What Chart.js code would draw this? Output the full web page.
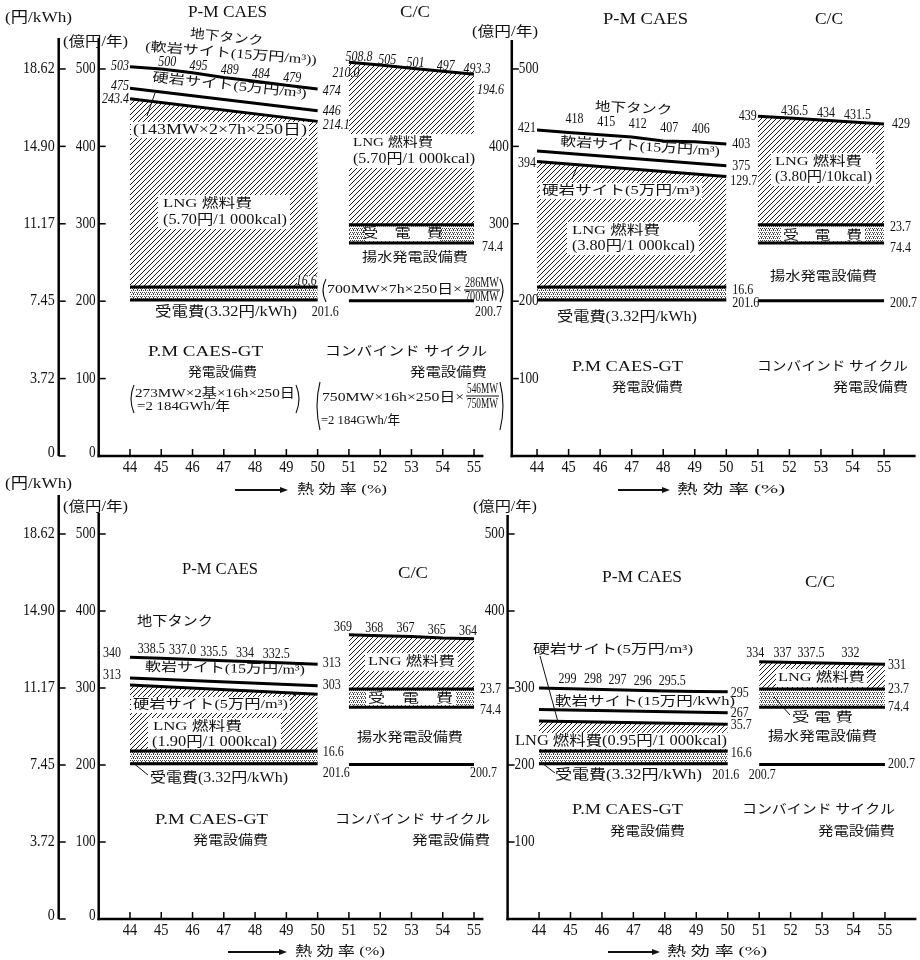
<!DOCTYPE html>
<html lang="ja">
<head>
<meta charset="UTF-8">
<title>P-M CAES / C/C</title>
<script src="https://cdn.jsdelivr.net/npm/chart.js@4/dist/chart.umd.min.js"></script>
<style>
    body { margin: 0; background: #fff; }
    #wrap { position: relative; width: 920px; height: 960px; }
    #wrap canvas { position: absolute; left: 0; top: 0; }
</style>
</head>
<body>
<div id="wrap">
    <canvas id="cA" width="920" height="960"></canvas>
    <canvas id="cB" width="920" height="960"></canvas>
    <canvas id="cC" width="920" height="960"></canvas>
    <canvas id="cD" width="920" height="960"></canvas>
</div>
<script>
// axis ticks
var xTicks = [44, 45, 46, 47, 48, 49, 50, 51, 52, 53, 54, 55];
var yTicks = [500, 400, 300, 200, 100, 0];
var kwhTicks = ['18.62', '14.90', '11.17', '7.45', '3.72', '0'];

// 熱効率 (%)
var pmX = [44, 45, 46, 47, 48, 49, 50];
var pmEnds = [44, 50];
var ccX = [51, 52, 53, 54, 55];
var ccEnds = [51, 55];

// common cost levels (億円/年)
var pmBase = [201.6, 201.6];   // P.M CAES-GT 発電設備費
var pmRecv = [218.2, 218.2];   // + 受電費
var ccBase = [200.7, 200.7];   // コンバインドサイクル 発電設備費
var ccPump = [275.1, 275.1];   // + 揚水発電設備費
var ccRecv = [298.8, 298.8];   // + 受電費

// LNG 5.70円/1000kcal
var aTank = [503, 500, 495, 489, 484, 479, 474];
var aHard = [475, 446];
var aLng = [461.6, 432.3];
var aCc = [508.8, 505, 501, 497, 493.3];
var aCcLbl = ['508.8', '505', '501', '497', '493.3'];

// LNG 3.80円
var bTank = [421, 418, 415, 412, 407, 406, 403];
var bSoft = [394, 375];
var bLng = [380.5, 361];
var bCc = [439, 436.5, 434, 431.5, 429];

// LNG 1.90円
var cTank = [340, 338.5, 337.0, 335.5, 334, 332.5, 331];
var cTankLbl = ['340', '338.5', '337.0', '335.5', '334', '332.5', '313'];
var cSoft = [313, 303];
var cLng = [304, 292];
var cCc = [369, 368, 367, 365, 364];

// LNG 0.95円
var dTank = [300, 299, 298, 297, 296, 295.5, 295];
var dSoft = [272, 268];
var dLng = [257, 253];
var dCc = [334, 331];
var dCcLbl = ['334', '337', '337.5', '332'];

var FONT = '"Liberation Serif", "Noto Sans CJK JP", serif';

// --- small drawing helpers ---
function txt(ctx, s, x, y, o) {
    o = o || {};
    var size = o.size || 13;
    ctx.save();
    ctx.font = (o.italic ? 'italic ' : '') + size + 'px ' + FONT;
    var m = ctx.measureText(s).width;
    var sx = o.w ? o.w / m : (o.sx || 1);
    var w = m * sx;
    var cx = o.align === 'left' ? x + w / 2 : (o.align === 'right' ? x - w / 2 : x);
    ctx.translate(cx, y);
    if (o.rot) ctx.rotate(o.rot * Math.PI / 180);
    ctx.scale(sx, 1);
    ctx.fillStyle = '#111';
    ctx.textAlign = 'center';
    ctx.textBaseline = 'middle';
    ctx.fillText(s, 0, 0);
    ctx.restore();
}
function T(ctx, s, x1, x2, y, size, o) {
    o = o || {};
    o.size = size;
    o.w = x2 - x1;
    txt(ctx, s, (x1 + x2) / 2, y, o);
}
function N(ctx, s, x, y, align, italic) {
    txt(ctx, s, x, y, { size: 15, sx: 0.8, align: align || 'center', italic: italic });
}
function seg(ctx, x1, y1, x2, y2, lw) {
    if (lw) ctx.lineWidth = lw;
    ctx.beginPath();
    ctx.moveTo(x1, y1);
    ctx.lineTo(x2, y2);
    ctx.stroke();
}
function box(ctx, x1, y1, x2, y2) {
    ctx.fillStyle = '#fff';
    ctx.fillRect(x1, y1, x2 - x1, y2 - y1);
}
function paren(ctx, x, y1, y2, right) {
    var d = right ? -3 : 3;
    ctx.save();
    ctx.lineWidth = 1.1;
    ctx.strokeStyle = '#111';
    ctx.beginPath();
    ctx.moveTo(x + d, y1);
    ctx.quadraticCurveTo(x - d, (y1 + y2) / 2, x + d, y2);
    ctx.stroke();
    ctx.restore();
}
function frac(ctx, num, den, x1, x2, yn, yb, yd) {
    T(ctx, num, x1, x2, yn, 15);
    ctx.strokeStyle = '#111';
    seg(ctx, x1 - 1, yb, x2 + 1, yb, 1);
    T(ctx, den, x1, x2, yd, 15);
}
function pointer(ctx, x1, y1, x2, y2, head) {
    ctx.save();
    ctx.strokeStyle = '#111';
    seg(ctx, x1, y1, x2, y2, 1);
    if (head) {
        var a = Math.atan2(y2 - y1, x2 - x1);
        ctx.fillStyle = '#111';
        ctx.beginPath();
        ctx.moveTo(x2, y2);
        ctx.lineTo(x2 - 5 * Math.cos(a - 0.4), y2 - 5 * Math.sin(a - 0.4));
        ctx.lineTo(x2 - 5 * Math.cos(a + 0.4), y2 - 5 * Math.sin(a + 0.4));
        ctx.fill();
    }
    ctx.restore();
}
function arrowLabel(ctx, x1, x2, y, tx1, tx2) {
    ctx.save();
    ctx.strokeStyle = '#111';
    ctx.fillStyle = '#111';
    seg(ctx, x1, y, x2 - 6, y, 1.8);
    ctx.beginPath();
    ctx.moveTo(x2, y);
    ctx.lineTo(x2 - 8, y - 3);
    ctx.lineTo(x2 - 8, y + 3);
    ctx.fill();
    ctx.restore();
    T(ctx, '熱 効 率 (%)', tx1, tx2, y, 13);
}

// patterns
function hatchPattern() {
    var c = document.createElement('canvas');
    c.width = c.height = 5;
    var g = c.getContext('2d');
    g.strokeStyle = '#000';
    g.lineWidth = 0.9;
    g.beginPath();
    g.moveTo(-1, 6); g.lineTo(6, -1);
    g.moveTo(-1, 1); g.lineTo(1, -1);
    g.moveTo(4, 6); g.lineTo(6, 4);
    g.stroke();
    return g.createPattern(c, 'repeat');
}
function dotPattern() {
    var c = document.createElement('canvas');
    c.width = c.height = 4;
    var g = c.getContext('2d');
    g.fillStyle = '#444';
    [[0, 0], [2, 0], [1, 2], [3, 2], [1, 1]].forEach(function (p) {
        g.fillRect(p[0], p[1], 1, 1);
    });
    return g.createPattern(c, 'repeat');
}
var HATCH = hatchPattern();
var DOTS = dotPattern();

function line(xs, ys, fillTo, bg) {
    return {
        data: xs.map(function (x, i) { return { x: x, y: ys[i] }; }),
        borderColor: '#000',
        borderWidth: 3,
        pointRadius: 0,
        tension: 0,
        fill: fillTo === undefined ? false : fillTo,
        backgroundColor: bg || 'transparent'
    };
}
function datasets(tank, mid, lng, cc) {
    return [
        line(pmX, tank),
        line(pmEnds, mid),
        line(pmEnds, lng, 3, HATCH),
        line(pmEnds, pmRecv, 4, DOTS),
        line(pmEnds, pmBase),
        line(cc.length === 2 ? ccEnds : ccX, cc, 6, HATCH),
        line(ccEnds, ccRecv, 7, DOTS),
        line(ccEnds, ccPump),
        line(ccEnds, ccBase)
    ];
}

function drawAxes(chart, cfg) {
    var ctx = chart.ctx, a = chart.chartArea;
    var xs = chart.scales.x, ys = chart.scales.y;
    var left = a.left, bot = a.bottom;
    ctx.save();
    ctx.strokeStyle = '#000';
    seg(ctx, left, cfg.innerTop, left, bot + 1.2, 2.5);
    seg(ctx, left - 1.2, bot, a.right, bot, 2.5);
    ctx.lineWidth = 1.5;
    xTicks.forEach(function (v) {
        var x = xs.getPixelForValue(v);
        seg(ctx, x, bot, x, bot - 7);
        txt(ctx, String(v), x, bot + 12, { size: 16, sx: 0.9 });
    });
    yTicks.forEach(function (v, i) {
        var y = ys.getPixelForValue(v);
        if (v > 0) seg(ctx, left, y, left + 7, y, 1.5);
        var side = cfg.sides[i];
        if (side === 'L') txt(ctx, String(v), left - 3, v === 0 ? y - 3 : y, { size: 16, sx: 0.83, align: 'right' });
        if (side === 'R') txt(ctx, String(v), left + 7, y, { size: 16, sx: 0.83, align: 'left' });
    });
    if (cfg.outer) {
        var ox = left - 40;
        seg(ctx, ox, cfg.outerTop, ox, bot, 2.5);
        yTicks.forEach(function (v, i) {
            var y = ys.getPixelForValue(v);
            seg(ctx, ox, y, ox + 7, y, 1.5);
            txt(ctx, kwhTicks[i], ox - 4, v === 0 ? y - 3 : y, { size: 16, sx: 0.88, align: 'right' });
        });
    }
    ctx.restore();
}

function makePanel(id, cfg) {
    var deco = {
        id: 'deco' + id,
        beforeDatasetsDraw: function (chart) {
            var X = function (v) { return chart.scales.x.getPixelForValue(v); };
            var Y = function (v) { return chart.scales.y.getPixelForValue(v); };
            cfg.boxes(chart.ctx, X, Y);
        },
        afterDatasetsDraw: function (chart) {
            var X = function (v) { return chart.scales.x.getPixelForValue(v); };
            var Y = function (v) { return chart.scales.y.getPixelForValue(v); };
            drawAxes(chart, cfg);
            cfg.texts(chart.ctx, X, Y);
        }
    };
    return new Chart(document.getElementById(id), {
        type: 'line',
        data: { datasets: cfg.datasets },
        options: {
            responsive: false,
            animation: false,
            events: [],
            layout: { padding: cfg.padding },
            plugins: {
                legend: { display: false },
                tooltip: { enabled: false },
                filler: { drawTime: 'beforeDraw' }
            },
            scales: {
                x: { type: 'linear', min: cfg.xmin, max: cfg.xmax, display: false },
                y: { min: 0, max: 540, display: false }
            }
        },
        plugins: [deco]
    });
}

// ---------- panel A : 5.70円 ----------
makePanel('cA', {
    datasets: datasets(aTank, aHard, aLng, aCc),
    padding: { left: 98.7, right: 436.6, top: 38, bottom: 504 },
    xmin: 43, xmax: 55.3,
    outer: true, outerTop: 38, innerTop: 38,
    sides: ['L', 'L', 'L', 'L', 'L', 'L'],
    boxes: function (ctx, X, Y) {
        box(ctx, 131, 122, 309, 138);
        box(ctx, 158, 195, 290, 229);
        box(ctx, 297, 276, 318, 285);
        box(ctx, 349, 134, 478, 168);
        box(ctx, 366, Y(ccRecv[0]) + 2, 440, Y(ccPump[0]) - 2);
    },
    texts: function (ctx, X, Y) {
        var i;
        T(ctx, '(円/kWh)', 5, 72, 18, 15);
        T(ctx, '(億円/年)', 63, 128, 42, 14);
        T(ctx, 'P-M CAES', 188, 267, 13, 16);
        T(ctx, 'C/C', 400, 430, 13, 16);
        T(ctx, '地下タンク', 190, 263, 38, 13, { rot: 6 });
        T(ctx, '(軟岩サイト(15万円/m³))', 145, 317, 54, 13, { rot: 4.5 });
        T(ctx, '硬岩サイト(5万円/m³)', 152, 307, 86, 13, { rot: 6 });
        T(ctx, '(143MW×2×7h×250日)', 133, 307, 130, 14);
        T(ctx, 'LNG 燃料費', 163, 252, 204, 13);
        T(ctx, '(5.70円/1 000kcal)', 163, 287, 220, 14);
        T(ctx, '受電費(3.32円/kWh)', 155, 297, 312, 14);
        T(ctx, 'P.M CAES-GT', 148, 263, 352, 15);
        T(ctx, '発電設備費', 188, 257, 373, 13);
        paren(ctx, 131, 385, 413, false);
        paren(ctx, 299, 385, 413, true);
        T(ctx, '273MW×2基×16h×250日', 135, 295, 394, 13);
        T(ctx, '=2 184GWh/年', 137, 230, 407, 13);

        T(ctx, 'LNG 燃料費', 353, 433, 143, 13);
        T(ctx, '(5.70円/1 000kcal)', 353, 475, 159, 14);
        T(ctx, '受　電　費', 362, 443, 234, 13);
        T(ctx, '揚水発電設備費', 362, 468, 258, 13);
        paren(ctx, 323, 279, 302, false);
        paren(ctx, 503, 279, 302, true);
        T(ctx, '700MW×7h×250日×', 327, 462, 290, 13);
        frac(ctx, '286MW', '700MW', 465, 499, 283, 290, 297);
        T(ctx, 'コンバインド サイクル', 325, 487, 352, 13);
        T(ctx, '発電設備費', 410, 487, 373, 13);
        paren(ctx, 317, 382, 430, false);
        paren(ctx, 503, 382, 430, true);
        T(ctx, '750MW×16h×250日×', 322, 464, 398, 13);
        frac(ctx, '546MW', '750MW', 467, 498, 389, 396, 404);
        T(ctx, '=2 184GWh/年', 321, 400, 421, 13);
        arrowLabel(ctx, 235, 288, 490, 297, 387);
        pointer(ctx, 155, 93, 147, 116, false);

        N(ctx, String(aTank[0]), X(pmX[0]) - 1, Y(aTank[0]) - 1, 'right', true);
        for (i = 1; i < 6; i++) N(ctx, String(aTank[i]), X(pmX[i]) + 6, Y(aTank[i]) - 7, 'center', true);
        N(ctx, String(aTank[6]), X(pmX[6]) + 5, Y(aTank[6]) + 2, 'left', true);
        N(ctx, String(aHard[0]), X(44) - 1, Y(aHard[0]) - 2, 'right', true);
        N(ctx, String(aHard[1]), X(50) + 5, Y(aHard[1]), 'left', true);
        N(ctx, '243.4', X(44) - 1, Y(aLng[0]), 'right', true);
        N(ctx, '214.1', X(50) + 5, Y(aLng[1]) + 4, 'left', true);
        N(ctx, '16.6', X(50) - 1, Y(pmRecv[1]) - 6, 'right', true);
        N(ctx, '201.6', X(50) - 6, Y(pmBase[1]) + 12, 'left', false);
        var ccDx = [10, 7, 4, 3, 3];
        for (i = 0; i < 5; i++) N(ctx, aCcLbl[i], X(ccX[i]) + ccDx[i], Y(aCc[i]) - 5, 'center', true);
        N(ctx, '210.0', X(51) - 3, Y(aCc[0]) + 11, 'center', true);
        N(ctx, '194.6', X(55) + 3, Y(aCc[4]) + 16, 'left', true);
        N(ctx, '74.4', X(55) + 8, Y(ccPump[1]) + 4, 'left', false);
        N(ctx, '200.7', X(55) + 28, Y(ccBase[1]) + 11, 'right', false);
    }
});

// ---------- panel B : 3.80円 ----------
makePanel('cB', {
    datasets: datasets(bTank, bSoft, bLng, bCc),
    padding: { left: 511.8, right: 4.4, top: 38, bottom: 504 },
    xmin: 43.2, xmax: 56.0,
    outer: false, innerTop: 40,
    sides: ['R', 'L', 'L', 'R', 'R', null],
    boxes: function (ctx, X, Y) {
        box(ctx, 540, 183, 702, 199);
        box(ctx, 567, 222, 699, 255);
        box(ctx, 771, 153, 876, 186);
        box(ctx, 781, Y(ccRecv[0]) + 2, 865, Y(ccPump[0]) - 2);
    },
    texts: function (ctx, X, Y) {
        var i;
        T(ctx, '(億円/年)', 472, 538, 32, 14);
        T(ctx, 'P-M CAES', 603, 688, 20, 16);
        T(ctx, 'C/C', 815, 843, 20, 16);
        T(ctx, '地下タンク', 595, 672, 109, 13, { rot: 3 });
        T(ctx, '軟岩サイト(15万円/m³)', 560, 720, 147, 13, { rot: 3.5 });
        T(ctx, '硬岩サイト(5万円/m³)', 542, 700, 191, 13);
        T(ctx, 'LNG 燃料費', 572, 660, 231, 13);
        T(ctx, '(3.80円/1 000kcal)', 572, 695, 246, 14);
        T(ctx, '受電費(3.32円/kWh)', 557, 697, 317, 14);
        T(ctx, 'LNG 燃料費', 775, 862, 162, 13);
        T(ctx, '(3.80円/10kcal)', 775, 872, 177, 14);
        T(ctx, '受　電　費', 783, 862, 236, 13);
        T(ctx, '揚水発電設備費', 770, 877, 277, 13);
        T(ctx, 'P.M CAES-GT', 572, 683, 367, 15);
        T(ctx, '発電設備費', 612, 683, 388, 13);
        T(ctx, 'コンバインド サイクル', 757, 908, 367, 13);
        T(ctx, '発電設備費', 833, 908, 388, 13);
        arrowLabel(ctx, 618, 670, 490, 677, 785);
        pointer(ctx, 577, 167, 572, 179, false);

        N(ctx, String(bTank[0]), X(44) - 1, Y(bTank[0]) - 2, 'right');
        for (i = 1; i < 6; i++) N(ctx, String(bTank[i]), X(pmX[i]) + 6, Y(bTank[i]) - 13, 'center');
        N(ctx, String(bTank[6]), X(50) + 6, Y(bTank[6]), 'left');
        N(ctx, String(bSoft[0]), X(44) - 1, Y(bSoft[0]) + 12, 'right');
        N(ctx, String(bSoft[1]), X(50) + 6, Y(bSoft[1]), 'left');
        N(ctx, '129.7', X(50) + 4, Y(bLng[1]) + 5, 'left');
        N(ctx, '16.6', X(50) + 6, Y(pmRecv[1]) + 3, 'left');
        N(ctx, '201.6', X(50) + 6, Y(pmBase[1]) + 3, 'left');
        N(ctx, String(bCc[0]), X(51) - 1, Y(bCc[0]), 'right');
        for (i = 1; i < 4; i++) N(ctx, String(bCc[i]), X(ccX[i]) + 5, Y(bCc[i]) - 7, 'center');
        N(ctx, String(bCc[4]), X(55) + 8, Y(bCc[4]), 'left');
        N(ctx, '23.7', X(55) + 6, Y(ccRecv[1]) + 2, 'left');
        N(ctx, '74.4', X(55) + 6, Y(ccPump[1]) + 5, 'left');
        N(ctx, '200.7', X(55) + 6, Y(ccBase[1]) + 2, 'left');
    }
});

// ---------- panel C : 1.90円 ----------
makePanel('cC', {
    datasets: datasets(cTank, cSoft, cLng, cCc),
    padding: { left: 98.7, right: 436.6, top: 503.2, bottom: 41 },
    xmin: 43, xmax: 55.3,
    outer: true, outerTop: 495, innerTop: 513,
    sides: ['L', 'L', 'L', 'L', 'L', 'L'],
    boxes: function (ctx, X, Y) {
        box(ctx, 131, 697, 290, 713);
        box(ctx, 148, 718, 281, 749);
        box(ctx, 365, 653, 458, 671);
        box(ctx, 366, Y(ccRecv[0]) + 2, 456, Y(ccPump[0]) - 2);
    },
    texts: function (ctx, X, Y) {
        var i;
        T(ctx, '(円/kWh)', 5, 72, 484, 15);
        T(ctx, '(億円/年)', 63, 128, 507, 14);
        T(ctx, 'P-M CAES', 182, 258, 570, 16);
        T(ctx, 'C/C', 398, 428, 574, 16);
        T(ctx, '地下タンク', 137, 213, 622, 13);
        T(ctx, '軟岩サイト(15万円/m³)', 145, 305, 669, 13, { rot: 1 });
        T(ctx, '硬岩サイト(5万円/m³)', 133, 288, 705, 13);
        T(ctx, 'LNG 燃料費', 153, 242, 727, 13);
        T(ctx, '(1.90円/1 000kcal)', 152, 277, 742, 14);
        T(ctx, '受電費(3.32円/kWh)', 150, 288, 778, 14);
        T(ctx, 'LNG 燃料費', 368, 455, 662, 13);
        T(ctx, '受　電　費', 368, 453, 699, 13);
        T(ctx, '揚水発電設備費', 357, 463, 738, 13);
        T(ctx, 'P.M CAES-GT', 155, 268, 820, 15);
        T(ctx, '発電設備費', 193, 268, 841, 13);
        T(ctx, 'コンバインド サイクル', 335, 490, 820, 13);
        T(ctx, '発電設備費', 412, 490, 841, 13);
        arrowLabel(ctx, 228, 287, 952, 295, 385);
        pointer(ctx, 290, 701, 297, 692, true);
        pointer(ctx, 132, 762, 148, 775, false);

        N(ctx, cTankLbl[0], X(44) - 9, Y(cTank[0]) - 4, 'right');
        for (i = 1; i < 6; i++) N(ctx, cTankLbl[i], X(pmX[i]) - 10, Y(cTank[i]) - 9, 'center');
        N(ctx, cTankLbl[6], X(50) + 5, Y(cTank[6]) - 1, 'left');
        N(ctx, String(cSoft[0]), X(44) - 9, Y(cSoft[0]) - 3, 'right');
        N(ctx, String(cSoft[1]), X(50) + 5, Y(cSoft[1]) - 1, 'left');
        N(ctx, '16.6', X(50) + 5, Y(pmRecv[1]) + 1, 'left');
        N(ctx, '201.6', X(50) + 5, Y(pmBase[1]) + 9, 'left');
        for (i = 0; i < 5; i++) N(ctx, String(cCc[i]), X(ccX[i]) - 6, Y(cCc[i]) - 8, 'center');
        N(ctx, '23.7', X(55) + 6, Y(ccRecv[1]), 'left');
        N(ctx, '74.4', X(55) + 6, Y(ccPump[1]) + 3, 'left');
        N(ctx, '200.7', X(55) + 23, Y(ccBase[1]) + 9, 'right');
    }
});

// ---------- panel D : 0.95円 ----------
makePanel('cD', {
    datasets: datasets(dTank, dSoft, dLng, dCc),
    padding: { left: 507.6, right: 3.6, top: 503.2, bottom: 41 },
    xmin: 43, xmax: 56.0,
    outer: false, innerTop: 515,
    sides: ['L', 'L', 'R', 'R', 'R', null],
    boxes: function (ctx, X, Y) {
        box(ctx, 513, 733, 729, 749);
        box(ctx, 776, 669, 867, 687);
    },
    texts: function (ctx, X, Y) {
        var i;
        T(ctx, '(億円/年)', 473, 537, 507, 14);
        T(ctx, 'P-M CAES', 602, 682, 578, 16);
        T(ctx, 'C/C', 805, 835, 583, 16);
        T(ctx, '硬岩サイト(5万円/m³)', 533, 693, 650, 13);
        T(ctx, '軟岩サイト(15万円/kWh)', 555, 735, 702, 13);
        T(ctx, 'LNG 燃料費(0.95円/1 000kcal)', 515, 727, 741, 14);
        T(ctx, '受電費(3.32円/kWh)', 555, 702, 775, 14);
        T(ctx, 'LNG 燃料費', 778, 865, 678, 13);
        T(ctx, '受 電 費', 792, 853, 718, 13);
        T(ctx, '揚水発電設備費', 768, 877, 737, 13);
        T(ctx, 'P.M CAES-GT', 572, 683, 810, 15);
        T(ctx, '発電設備費', 610, 685, 832, 13);
        T(ctx, 'コンバインド サイクル', 742, 895, 810, 13);
        T(ctx, '発電設備費', 818, 895, 832, 13);
        arrowLabel(ctx, 608, 660, 952, 667, 767);
        pointer(ctx, 540, 656, 558, 722, false);
        pointer(ctx, 542, 763, 555, 773, false);
        pointer(ctx, 774, 697, 790, 715, false);

        var tDx = [0, -3, -9, -16, -22, -24];
        for (i = 1; i < 6; i++) N(ctx, String(dTank[i]), X(pmX[i]) + tDx[i], Y(dTank[i]) - 10, 'center');
        N(ctx, String(dTank[6]), X(50) + 3, Y(dTank[6]) + 1, 'left');
        N(ctx, '267', X(50) + 3, Y(dSoft[1]), 'left');
        N(ctx, '35.7', X(50) + 3, Y(dLng[1]) + 1, 'left');
        N(ctx, '16.6', X(50) + 3, Y(pmRecv[1]) + 2, 'left');
        N(ctx, '201.6', X(50) - 2, Y(pmBase[1]) + 11, 'center');
        N(ctx, '200.7', X(51) + 3, Y(ccBase[0]) + 11, 'center');
        var cDx = [-4, -8, -11, -3];
        for (i = 0; i < 4; i++) N(ctx, dCcLbl[i], X(ccX[i]) + cDx[i], Y(dCc[0]) - 9, 'center');
        N(ctx, String(dCc[1]), X(55) + 3, Y(dCc[1]) + 1, 'left');
        N(ctx, '23.7', X(55) + 3, Y(ccRecv[1]), 'left');
        N(ctx, '74.4', X(55) + 3, Y(ccPump[1]), 'left');
        N(ctx, '200.7', X(55) + 3, Y(ccBase[1]), 'left');
    }
});
</script>
</body>
</html>
